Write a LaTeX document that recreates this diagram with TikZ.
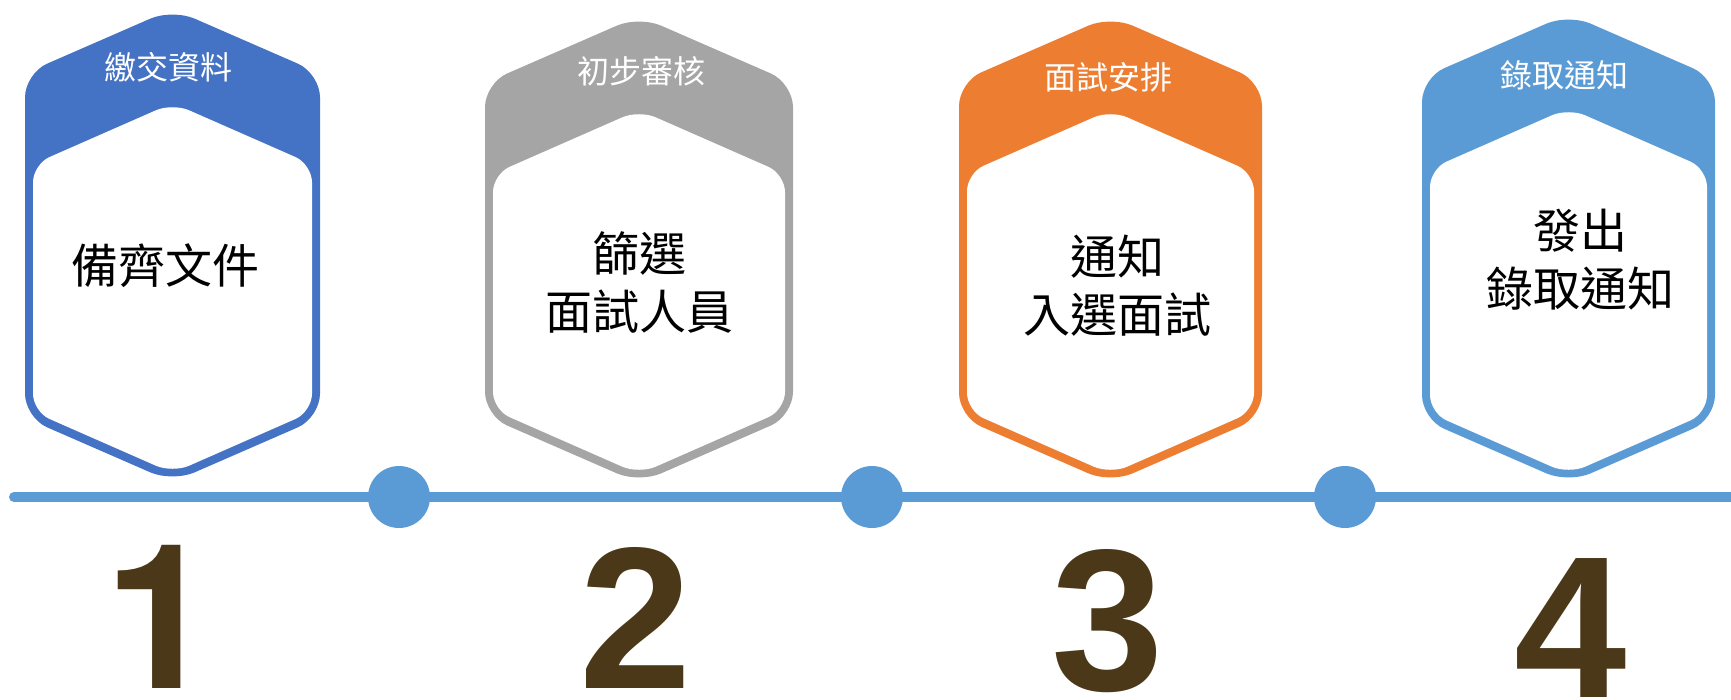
\documentclass[tikz,border=0pt]{standalone}
\usepackage{fontspec}
\setmainfont{Liberation Sans}
\newfontfamily\heros{TeX Gyre Heros}
\newfontfamily\cjk{Noto Sans CJK TC}
\definecolor{cBlue}{RGB}{68,114,196}
\definecolor{cGray}{RGB}{165,165,165}
\definecolor{cOrange}{RGB}{237,125,49}
\definecolor{cLight}{RGB}{91,155,213}
\definecolor{numbrown}{RGB}{74,56,24}
\newcommand{\hexcard}[5]{%
  \pgfmathsetmacro\hcx{(#1+#2)/2}%
  \pgfmathsetmacro\hs{0.436*(#2-#1)/2}%
  \fill[#5, rounded corners=24pt] (\hcx,#3) -- (#2,#3+\hs) -- (#2,#4-\hs) -- (\hcx,#4) -- (#1,#4-\hs) -- (#1,#3+\hs) -- cycle;
  \fill[white, rounded corners=18pt] (\hcx,#3+94) -- (#2-8,#3+94+\hs-3) -- (#2-8,#4-9-\hs+3) -- (\hcx,#4-9) -- (#1+8,#4-9-\hs+3) -- (#1+8,#3+94+\hs-3) -- cycle;
}
\tikzset{
  hdr/.style={text=white, font=\cjk\fontsize{32}{36}\selectfont, inner sep=0},
  body/.style={text=black, font=\cjk\fontsize{47}{58}\selectfont, align=center, inner sep=0},
  num/.style={text=numbrown, font=\fontsize{202}{202}\selectfont\bfseries, anchor=base, inner sep=0, text depth=0pt},
  dot/.style={circle, fill=cLight, minimum size=62pt, inner sep=0},
  tline/.style={draw=cLight, line width=10pt, line cap=round}
}
\begin{document}
\begin{tikzpicture}[x=1pt,y=-1pt]
\useasboundingbox (0,0) rectangle (1731,699);
% cards
\hexcard{25}{320}{9}{482}{cBlue}
\hexcard{485}{793}{16}{483}{cGray}
\hexcard{959}{1262}{16}{483}{cOrange}
\hexcard{1422}{1715}{14}{483}{cLight}
% header labels
\node[hdr] (h1) at (168,67) {繳交資料};
\node[hdr] (h2) at (641,71) {初步審核};
\node[hdr] (h3) at (1108,77) {面試安排};
\node[hdr] (h4) at (1564,75) {錄取通知};
% body texts
\node[body] (b1) at (165,266) {備齊文件};
\node[body] (b2) at (639,282) {篩選\\面試人員};
\node[body] (b3) at (1117,286) {通知\\入選面試};
\node[body] (b4) at (1580,260) {發出\\錄取通知};
% timeline
\coordinate (tl) at (14,497);
\coordinate (tr) at (1740,497);
\draw[tline] (tl) -- (tr);
\node[dot] (d1) at (399,497) {};
\node[dot] (d2) at (872,497) {};
\node[dot] (d3) at (1345,497) {};
% numbers
\node[num, font=\heros\fontsize{202}{202}\selectfont\bfseries] (n1) at (161,688) {1};
\node[num] (n2) at (636,688) {2};
\node[num] (n3) at (1108,690) {3};
\node[num] (n4) at (1571,697) {4};
\end{tikzpicture}
\end{document}
